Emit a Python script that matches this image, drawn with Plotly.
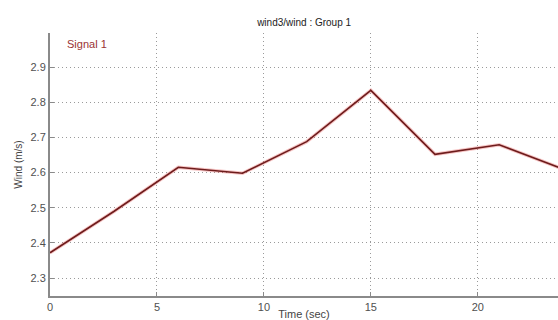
import plotly.graph_objects as go

# Wind signal sampled every 3 seconds
time_sec = [0, 3, 6, 9, 12, 15, 18, 21, 24]
wind_ms = [2.372, 2.49, 2.615, 2.598, 2.688, 2.834, 2.652, 2.679, 2.61]

x_ticks = [0, 5, 10, 15, 20]
y_ticks = [2.3, 2.4, 2.5, 2.6, 2.7, 2.8, 2.9]

font_family = "Liberation Sans, Arial, sans-serif"

fig = go.Figure()

# soft red glow beneath the signal line
fig.add_trace(go.Scatter(
    x=time_sec, y=wind_ms, mode="lines",
    line=dict(color="rgba(225,60,60,0.3)", width=3.5),
    hoverinfo="skip", showlegend=False,
))
fig.add_trace(go.Scatter(
    x=time_sec, y=wind_ms, mode="lines", name="Signal 1",
    line=dict(color="#6e1c1c", width=1.6),
    showlegend=False,
))

axis_common = dict(
    showline=True, linecolor="#8a8a8a", linewidth=2,
    showgrid=True, gridcolor="#9a9a9a", griddash="1px,3px", gridwidth=1,
    ticks="inside", ticklen=4, tickcolor="#8a8a8a", tickwidth=1,
    tickfont=dict(family=font_family, size=11, color="#505050"),
    zeroline=False, mirror=False,
)

fig.update_xaxes(
    range=[0, 23.75], tickvals=x_ticks,
    title=dict(text="Time (sec)", standoff=0,
               font=dict(family=font_family, size=11, color="#444444")),
    **axis_common,
)
fig.update_yaxes(
    range=[2.249, 2.997], tickvals=y_ticks, tickformat=".1f",
    title=dict(text="Wind (m/s)", standoff=6,
               font=dict(family=font_family, size=10, color="#444444")),
    **axis_common,
)

fig.add_annotation(
    text="Signal 1", xref="paper", yref="paper", x=0.03, y=0.99,
    xanchor="left", yanchor="top", showarrow=False,
    font=dict(family=font_family, size=11, color="#9a3434"),
)

fig.update_layout(
    width=558, height=320,
    margin=dict(l=50, r=0, t=33, b=24),
    paper_bgcolor="white", plot_bgcolor="white",
    title=dict(text="wind3/wind : Group 1", x=0.545, xanchor="center",
               y=0.93, yanchor="middle",
               font=dict(family=font_family, size=10, color="#222222")),
)

fig.write_html("out.html")
